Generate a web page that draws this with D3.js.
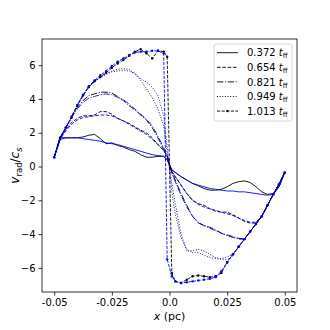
<!DOCTYPE html>
<html>
<head>
<meta charset="utf-8">
<script src="https://cdn.jsdelivr.net/npm/d3@7"></script>
<style>
  body { margin: 0; background: #fff; }
  svg { font-family: "DejaVu Sans", sans-serif; }
</style>
</head>
<body>
<div id="chart"></div>
<script>
// x positions (pc), shared by every curve
const xs = [-0.05, -0.0475, -0.045, -0.0425, -0.04, -0.0375, -0.035, -0.0325, -0.03, -0.0275,
            -0.025, -0.0225, -0.02, -0.0175, -0.015, -0.0125, -0.01, -0.0075, -0.005, -0.0025, -0.001,
            0.001, 0.0025, 0.005, 0.0075, 0.01, 0.0125, 0.015, 0.0175, 0.02, 0.0225,
            0.025, 0.0275, 0.03, 0.0325, 0.035, 0.0375, 0.04, 0.0425, 0.045, 0.0475, 0.05];

// v_rad / c_s, black (k) and blue (b) curve for every time
const v372k = [0.55, 1.7, 1.7, 1.7, 1.7, 1.75, 1.85, 1.9, 1.65, 1.35, 1.4, 1.25, 1.15, 1.0, 0.9, 0.7, 0.55, 0.55, 0.6, 0.6, 0.4,
               -0.2, -0.35, -0.6, -0.8, -1.0, -1.15, -1.3, -1.4, -1.4, -1.35, -1.2, -1.0, -0.9, -0.85, -0.95, -1.2, -1.5, -1.65, -1.6, -1.2, -0.35];
const v372b = [0.55, 1.6, 1.7, 1.7, 1.7, 1.65, 1.6, 1.55, 1.5, 1.4, 1.35, 1.3, 1.2, 1.1, 1.0, 0.9, 0.8, 0.7, 0.65, 0.6, 0.4,
               -0.2, -0.35, -0.6, -0.8, -1.0, -1.1, -1.2, -1.3, -1.35, -1.4, -1.45, -1.45, -1.5, -1.5, -1.55, -1.6, -1.65, -1.7, -1.65, -1.2, -0.35];
const v654k = [0.55, 1.7, 2.2, 2.6, 2.85, 3.0, 3.0, 3.05, 3.25, 3.25, 3.1, 2.85, 2.7, 2.55, 2.35, 2.15, 2.0, 1.7, 1.3, 0.95, 0.6,
               -0.3, -0.6, -1.1, -1.6, -2.0, -2.2, -2.3, -2.5, -2.65, -2.7, -2.7, -2.85, -3.05, -3.25, -3.35, -3.35, -2.95, -2.3, -1.65, -1.05, -0.35];
const v654b = [0.55, 1.6, 2.1, 2.5, 2.75, 2.9, 2.95, 3.0, 3.05, 3.05, 3.0, 2.85, 2.7, 2.5, 2.3, 2.1, 1.9, 1.6, 1.3, 0.95, 0.6,
               -0.3, -0.6, -1.1, -1.6, -2.0, -2.25, -2.4, -2.5, -2.6, -2.7, -2.8, -2.9, -3.05, -3.2, -3.3, -3.3, -2.95, -2.3, -1.65, -1.05, -0.35];
const v821k = [0.55, 1.7, 2.3, 2.9, 3.5, 3.9, 4.2, 4.3, 4.4, 4.4, 4.35, 4.15, 3.9, 3.6, 3.35, 3.05, 2.75, 2.3, 1.7, 1.0, 0.6,
               -0.3, -0.8, -1.6, -2.3, -2.95, -3.35, -3.5, -3.6, -3.75, -3.95, -4.05, -4.15, -4.25, -4.3, -3.85, -3.4, -2.95, -2.3, -1.65, -1.05, -0.35];
const v821b = [0.55, 1.6, 2.3, 2.9, 3.4, 3.8, 4.05, 4.15, 4.25, 4.3, 4.25, 4.1, 3.95, 3.7, 3.4, 3.1, 2.8, 2.4, 1.8, 1.1, 0.6,
               -0.4, -0.9, -1.7, -2.4, -2.95, -3.3, -3.5, -3.65, -3.8, -3.95, -4.1, -4.2, -4.3, -4.3, -3.85, -3.4, -2.95, -2.3, -1.65, -1.05, -0.35];
const v949k = [0.55, 1.7, 2.3, 2.9, 3.6, 4.2, 4.7, 5.05, 5.3, 5.5, 5.65, 5.75, 5.8, 5.75, 5.5, 5.1, 4.6, 4.1, 3.4, 2.4, 0.8,
               -1.0, -2.2, -4.0, -5.0, -5.0, -4.9, -5.0, -5.2, -5.4, -5.45, -5.35, -5.2, -4.75, -4.3, -3.85, -3.4, -2.95, -2.3, -1.65, -1.05, -0.35];
const v949b = [0.55, 1.6, 2.3, 2.95, 3.65, 4.25, 4.75, 5.05, 5.25, 5.45, 5.6, 5.65, 5.7, 5.65, 5.5, 5.2, 5.0, 4.7, 4.2, 3.0, 1.2,
               -1.5, -2.8, -4.2, -4.9, -5.1, -5.1, -5.25, -5.4, -5.45, -5.5, -5.5, -5.3, -4.75, -4.3, -3.85, -3.4, -2.95, -2.3, -1.65, -1.05, -0.35];
const v1013k = [0.55, 1.7, 2.3, 2.9, 3.6, 4.2, 4.7, 5.05, 5.3, 5.55, 5.85, 6.1, 6.3, 6.55, 6.8, 6.95, 6.7, 6.4, 6.85, 6.8, 6.5,
                -6.3, -6.8, -6.9, -6.7, -6.5, -6.45, -6.5, -6.55, -6.5, -6.3, -5.65, -5.2, -4.75, -4.3, -3.85, -3.4, -2.95, -2.3, -1.65, -1.05, -0.35];
const v1013b = [0.55, 1.6, 2.3, 2.95, 3.65, 4.25, 4.75, 5.1, 5.4, 5.65, 5.95, 6.2, 6.4, 6.6, 6.75, 6.8, 6.8, 6.85, 6.85, 6.7, -5.5,
                -6.5, -6.8, -6.9, -6.85, -6.8, -6.75, -6.7, -6.65, -6.55, -6.2, -5.7, -5.2, -4.75, -4.3, -3.85, -3.4, -2.95, -2.3, -1.65, -1.05, -0.35];

const times = ['0.372', '0.654', '0.821', '0.949', '1.013'];
const xTicks = [-0.05, -0.025, 0, 0.025, 0.05];
const xTickLabels = ['-0.05', '-0.025', '0.0', '0.025', '0.05'];
const yTicks = [-6, -4, -2, 0, 2, 4, 6];

// line style per time (matplotlib look)
const dashes = ['none', '3.7,1.6', '6.4,1.6,1,1.6', '1,1.65', '3.2,1.4'];

const series = [
    { t: 0, k: v372k, b: v372b },
    { t: 1, k: v654k, b: v654b },
    { t: 2, k: v821k, b: v821b },
    { t: 3, k: v949k, b: v949b },
    { t: 4, k: v1013k, b: v1013b }
];

const margin = { top: 39, left: 42 };
const width = 255, height = 253;

const svg = d3.select('#chart').append('svg')
    .attr('width', 330)
    .attr('height', 330);

const g = svg.append('g')
    .attr('transform', `translate(${margin.left},${margin.top})`);

const x = d3.scaleLinear().domain([-0.0553, 0.0553]).range([0, width]);
const y = d3.scaleLinear().domain([-7.43, 7.55]).range([height, 0]);

const line = d3.line()
    .x((d, i) => x(xs[i]))
    .y(d => y(d));

series.forEach(s => {
    ['k', 'b'].forEach(c => {
        const color = c === 'k' ? '#000' : '#0000ff';
        g.append('path')
            .datum(s[c])
            .attr('fill', 'none')
            .attr('stroke', color)
            .attr('stroke-width', 0.9)
            .attr('stroke-dasharray', dashes[s.t])
            .attr('d', line);
        if (s.t === 4) {
            g.selectAll(null)
                .data(s[c])
                .enter().append('circle')
                .attr('cx', (d, i) => x(xs[i]))
                .attr('cy', d => y(d))
                .attr('r', 1.2)
                .attr('fill', color);
        }
    });
});

// frame
g.append('rect')
    .attr('width', width)
    .attr('height', height)
    .attr('fill', 'none')
    .attr('stroke', '#000')
    .attr('stroke-width', 0.8);

// axes
const xAxis = g.append('g')
    .attr('transform', `translate(0,${height})`)
    .call(d3.axisBottom(x).tickValues(xTicks).tickSize(3.5).tickPadding(3)
        .tickFormat((d, i) => xTickLabels[i]));

const yAxis = g.append('g')
    .call(d3.axisLeft(y).tickValues(yTicks).tickSize(3.5).tickPadding(3)
        .tickFormat(d => d < 0 ? '\u2212' + Math.abs(d) : String(d)));

[xAxis, yAxis].forEach(a => {
    a.select('.domain').remove();
    a.selectAll('.tick line').attr('stroke', '#000').attr('stroke-width', 0.8);
    a.selectAll('.tick text')
        .attr('fill', '#000')
        .style('font-family', '"DejaVu Sans", sans-serif')
        .style('font-size', '10px');
});

// axis labels
const xl = svg.append('text')
    .attr('x', margin.left + width / 2)
    .attr('y', 320)
    .attr('text-anchor', 'middle')
    .style('font-size', '11px');
xl.append('tspan').style('font-style', 'italic').text('x');
xl.append('tspan').text(' (pc)');

const yl = svg.append('text')
    .attr('transform', `translate(19,${margin.top + height / 2}) rotate(-90)`)
    .attr('text-anchor', 'middle')
    .style('font-size', '12px');
yl.append('tspan').style('font-style', 'italic').text('v');
yl.append('tspan').attr('dy', 3).style('font-size', '8.5px').text('rad');
yl.append('tspan').attr('dy', -3).text('/');
yl.append('tspan').style('font-style', 'italic').text('c');
yl.append('tspan').attr('dy', 3).style('font-size', '8.5px').style('font-style', 'italic').text('s');

// legend
const lg = svg.append('g');
lg.append('rect')
    .attr('x', 214).attr('y', 44)
    .attr('width', 78).attr('height', 77)
    .attr('rx', 2.5)
    .attr('fill', '#fff').attr('fill-opacity', 0.8)
    .attr('stroke', '#d0d0d0').attr('stroke-width', 0.8);

times.forEach((t, i) => {
    const yy = 52.7 + i * 14.6;
    lg.append('line')
        .attr('x1', 217).attr('x2', 238)
        .attr('y1', yy).attr('y2', yy)
        .attr('stroke', '#000').attr('stroke-width', 0.9)
        .attr('stroke-dasharray', dashes[i]);
    if (i === 4) {
        lg.append('circle').attr('cx', 227.5).attr('cy', yy).attr('r', 1.2).attr('fill', '#000');
    }
    const tx = lg.append('text')
        .attr('x', 247).attr('y', yy + 3.6)
        .style('font-size', '10px');
    tx.append('tspan').text(t + ' ');
    tx.append('tspan').style('font-style', 'italic').text('t');
    tx.append('tspan').attr('dy', 2).style('font-size', '7px').text('ff');
});
</script>
</body>
</html>
